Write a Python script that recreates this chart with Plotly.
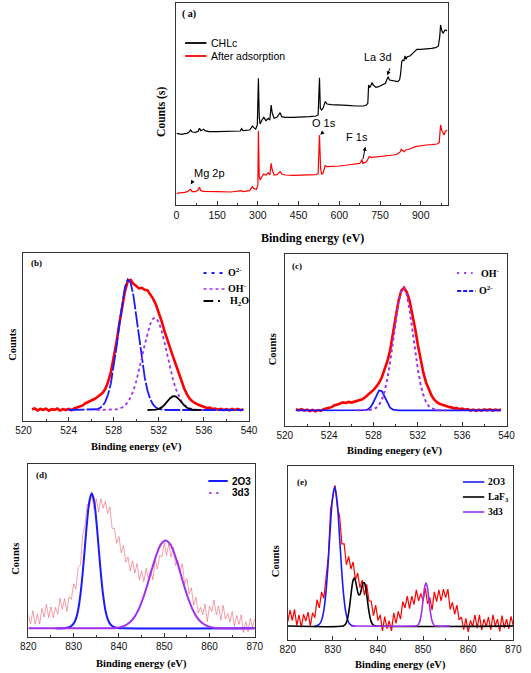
import numpy as np
import plotly.graph_objects as go

W, H = 531, 673
def px(x): return x / W
def py(y): return 1 - y / H

# ---------------- (a) survey spectra ----------------
chlc_ev = [0,10,20,30,40,48,52,58,70,80,85,90,100,105,120,150,180,210,235,240,245,270,280,285,292,298,302,305,308,315,
           322,330,338,344,349,353,360,370,382,388,400,430,460,490,515,522,527,530,535,540,548,555,570,600,630,660,690,700,705,708,
           712,715,720,725,735,745,760,770,776,780,785,795,805,815,822,826,830,834,838,842,846,850,860,870,880,886,900,920,940,955,
           965,970,973,977,982,986,990,997]
chlc_counts = [200,198,197,199,200,205,210,204,203,206,215,208,212,208,205,205,206,206,207,214,208,210,222,217,213,225,365,250,228,240,
               248,238,245,240,285,260,245,248,262,250,248,248,248,250,252,255,367,275,270,275,295,288,286,286,284,282,282,285,290,345,
               338,340,352,345,338,340,345,350,363,370,360,358,357,355,360,380,415,420,418,432,422,430,432,440,450,452,452,453,455,457,
               462,490,525,510,500,505,510,508]
after_ev = [0,10,20,30,40,48,52,58,70,80,85,90,100,150,200,240,245,270,280,285,295,300,302,305,308,315,322,330,338,344,
            349,353,360,370,382,388,400,430,460,490,515,522,527,531,535,540,548,555,570,600,630,660,675,680,683,687,700,705,710,720,
            740,760,780,800,815,825,828,832,838,845,860,880,900,920,940,960,968,973,977,982,986,990,997]
after_counts = [20,20,22,23,25,30,32,25,25,30,38,28,26,25,24,28,25,28,40,34,32,45,207,70,60,70,78,74,82,75,
                110,90,75,76,85,78,75,74,74,75,76,80,195,95,78,80,103,100,100,102,105,108,110,115,122,110,115,122,130,128,
                130,132,132,135,138,145,152,150,145,150,153,160,163,165,166,168,172,225,210,200,195,205,210]

# ---------------- (b) O 1s, CHLc ----------------
b_ev = np.round(np.arange(520.75, 539.51, 0.25), 2)
b_counts = [0.5,1.2,-0.3,0.8,0.2,1.0,-0.5,0.6,0.1,1.1,-0.4,0.7,0.0,0.9,
            -0.2,1.3,2.0,2.8,3.5,5.2,6.0,7.4,8.2,9.6,
            11.0,13.0,16.0,21.5,29.0,40.0,52.0,66.0,80.0,91.0,
            98.5,99.5,96.5,94.5,93.0,93.5,92.0,91.5,88.5,85.0,
            80.5,75.0,68.0,60.5,53.5,47.0,41.0,35.0,28.5,22.0,
            16.5,12.0,8.5,6.5,5.0,4.0,3.2,2.5,1.6,1.8,
            0.8,1.1,0.2,0.9,0.0,0.7,-0.2,0.8,0.1,0.9,
            -0.1,0.6]
b_o2_ev = [524.0,526.0,526.25,526.5,526.75,527.0,527.25,527.5,527.75,528.0,528.25,528.5,528.75,529.0,529.25,529.5,529.75,530.0,
           530.25,530.5,530.75,531.0,531.25,531.5,531.75,532.0,532.25,532.5,532.75,539.5]
b_o2 = [0,0.1,0.2,0.6,1.4,3.0,6.2,11.8,20.5,32.8,48.3,65.5,81.9,94.2,99.8,97.4,87.5,72.3,55.1,38.6,24.9,14.8,8.1,4.1,1.9,
        0.8,0.3,0.1,0,0]
b_oh_ev = [526.5,528.0,528.25,528.5,528.75,529.0,529.25,529.5,529.75,530.0,530.25,530.5,530.75,531.0,531.25,531.5,531.75,532.0,
           532.25,532.5,532.75,533.0,533.25,533.5,533.75,534.0,534.25,534.5,534.75,535.0,535.25,535.5,536.0]
b_oh = [0,0.2,0.5,1.0,1.9,3.5,6.0,9.7,15.0,22.0,30.5,40.1,50.0,59.0,66.0,70.0,70.4,67.1,60.6,51.9,42.1,32.4,23.6,16.3,10.7,
        6.6,3.9,2.2,1.2,0.6,0.3,0.1,0]
b_h2o_ev = [531.0,531.5,531.75,532.0,532.25,532.5,532.75,533.0,533.25,533.5,533.75,534.0,534.25,534.5,534.75,535.0,535.25,535.75]
b_h2o = [0,0.1,0.3,0.9,2.0,3.9,6.5,9.0,10.6,10.4,8.6,5.9,3.5,1.7,0.7,0.2,0.1,0]

# ---------------- (c) O 1s, after adsorption ----------------
c_ev = np.round(np.arange(521.0, 539.51, 0.25), 2)
c_counts = [0.8,0.1,1.0,-0.3,0.6,-0.6,0.4,-0.8,0.2,-0.4,
            0.9,1.2,2.0,2.8,4.2,4.8,5.6,6.4,6.0,6.8,
            6.3,7.0,7.2,8.0,9.0,10.6,12.5,14.4,16.6,19.3,
            22.5,27.0,33.0,40.0,49.0,61.0,76.0,89.0,97.5,100.0,
            96.5,89.5,79.0,67.0,53.5,41.0,30.5,22.5,16.5,11.8,
            8.5,6.4,5.2,4.3,3.6,2.9,2.4,1.6,1.8,0.9,
            1.3,0.4,0.9,-0.2,0.6,-0.5,0.5,-0.3,0.7,0.0,
            0.8,-0.2,0.5,0.1,0.6]
c_oh_ev = [526.5,527.5,527.75,528.0,528.25,528.5,528.75,529.0,529.25,529.5,529.75,530.0,530.25,530.5,530.75,531.0,531.25,
           531.5,531.75,532.0,532.25,532.5,532.75,533.0,533.25,533.5,533.75,534.0,534.5]
c_oh = [0,0.1,0.4,0.9,2.1,4.4,8.6,15.5,25.7,39.5,55.8,72.9,87.7,97.4,99.8,94.4,82.3,66.2,49.1,33.6,21.2,12.3,6.6,3.3,1.5,
        0.6,0.2,0.1,0]
c_o2_ev = [521.0,527.0,527.25,527.5,527.75,528.0,528.25,528.5,528.75,529.0,529.25,529.5,529.75,530.0,530.25,539.5]
c_o2 = [0,0,0.2,0.8,2.8,6.8,12.3,16.2,15.7,11.2,5.8,2.2,0.6,0.1,0,0]

# ---------------- (d) La 3d, CHLc ----------------
d_ev = np.round(np.arange(820.0, 870.01, 0.5), 1)
d_counts = [10,3.5,13,3,10.6,3.2,14.8,8.4,18,8, 16,7.8,15.6,10.5,22.3,14.2,22,12.5,23.5,21.5,
            33,29,45,47,69,76,92,90,100,88, 96,86,96,89,94,85,90,74,74,63,
            68,56,61.5,49,53,42.5,50,41,48,36, 42.5,34.5,44.5,37,42.5,36,50.5,44,54,53,
            63.5,54,62.5,53,60,46.5,50.5,42,48,33, 37,25.5,30,17,23,11.5,15.5,10,18,5,
            16.5,12.5,21,10,16.5,6,17,7,11,4.6, 12.5,1.5,9.5,3,10,-3,5,-2.5,7.5,1,
            7]
d_2o3_ev = [826.0,827.5,828.0,828.5,829.0,829.5,830.0,830.5,831.0,831.5,832.0,832.5,833.0,833.5,834.0,834.5,835.0,835.5,
            836.0,836.5,837.0,837.5,838.0,838.5,839.0,839.5,840.0,840.5,870.0]
d_2o3 = [0,0,0.1,0.4,0.9,1.8,3.5,7.0,13.6,24.9,41.1,60.7,80.1,94.6,100,94.6,80.1,60.7,41.1,24.9,13.6,7.0,3.5,1.8,0.9,
         0.4,0.1,0,0]
d_3d3_ev = [820,837.3,838.3,839.3,840.3,841.3,842.3,843.3,844.3,845.3,846.3,847.3,848.3,849.3,850.3,851.3,852.3,853.3,
            854.3,855.3,856.3,857.3,858.3,859.3,860.3,861.3,862.3,863.3,870]
d_3d3 = [0,0,0.1,0.3,0.9,2.0,4.1,7.8,13.7,22.1,32.5,44.1,54.7,62.3,65,62.3,54.7,44.1,32.5,22.1,13.7,7.8,4.1,2.0,0.9,
         0.3,0.1,0,0]

# ---------------- (e) La 3d, after adsorption ----------------
e_ev = np.round(np.arange(820.0, 870.01, 0.5), 1)
e_counts = [3,11.5,4,12,0.5,8,-1,8.5,3.5,10, 0,9.5,6,19,13,24.5,20,36,50,84,
            92,101,85,79,59,59,44,50,41,46, 33,38,27.5,33,22,30,18,18,7.5,15,
            4,8,-3.5,6.8,-1.8,3.8,-3.5,9.5,2,10.5, 5,17.5,13,21.5,12.5,21.5,15.5,26,18,23.5,
            18,27,16,20.5,11.5,24.5,17.5,26,18,26.5, 20.5,26.5,12,17,8.5,15,4.5,6.5,-2.5,5.5,
            -4.3,4,-0.5,8,-1.5,8,-3,5,-0.2,6.5, -2.7,8,0,5,-3.8,7.5,-1.3,5,-2,7,
            0]
e_2o3_ev = [825.9,826.4,826.9,827.4,827.9,828.4,828.9,829.4,829.9,830.4,830.9,831.4,831.9,832.4,832.9,833.4,833.9,834.4,834.9]
e_2o3 = [0,0.2,1.0,3.3,9.4,22.0,42.7,68.5,91.0,100,91.0,68.5,42.7,22.0,9.4,3.3,1.0,0.2,0]
e_laf3_ev = [820,832.25,832.5,832.75,833.0,833.25,833.5,833.75,834.0,834.25,834.5,834.75,835.0,835.25,835.5,835.75,836.0,
             836.25,836.5,836.75,837.0,837.25,837.5,837.75,838.0,838.25,838.5,838.75,839.0,839.25,839.5,870]
e_laf3 = [0,0,0.5,1.2,2.6,5.2,9.5,15.2,22.0,28.5,33.0,34.4,32.6,28.7,24.7,22.4,22.7,25.3,28.8,31.2,31.0,27.9,22.5,16.3,
          10.6,6.1,3.2,1.5,0.6,0.2,0,0]
e_3d3_ev = [834.0,848.15,848.4,848.65,848.9,849.15,849.4,849.65,849.9,850.15,850.4,850.65,850.9,851.15,851.4,851.65,851.9,
            852.15,852.4,852.65,852.9,853.15,856.0]
e_3d3 = [0,0,0.1,0.3,0.8,2.2,4.9,9.5,15.9,23.1,28.8,31,28.8,23.1,15.9,9.5,4.9,2.2,0.8,0.3,0.1,0,0]

RED = '#ff0000'
BLUE = '#1a1aff'
PURPLE = '#a02ff0'
BLACK = '#000000'
SERIF = 'Liberation Serif'
SANS = 'Liberation Sans'

fig = go.Figure()

def add(x, y, ax, color, width, dash='solid', shape='linear'):
    fig.add_trace(go.Scatter(x=x, y=y, mode='lines', xaxis='x' + ax, yaxis='y' + ax,
                             line=dict(color=color, width=width, dash=dash, shape=shape),
                             showlegend=False, hoverinfo='skip'))

# (a)
add(chlc_ev, chlc_counts, '', BLACK, 1.2)
add(after_ev, after_counts, '', RED, 1.2)
# (b)
add(b_ev, b_counts, '2', RED, 2.6)
add(b_o2_ev, b_o2, '2', BLUE, 1.8, '16px,2px')
add(b_oh_ev, b_oh, '2', PURPLE, 1.8, 'dot')
add(b_h2o_ev, b_h2o, '2', BLACK, 1.8)
# (c)
add(c_ev, c_counts, '3', RED, 2.6)
add(c_o2_ev, c_o2, '3', BLUE, 1.8)
add(c_oh_ev, c_oh, '3', PURPLE, 2.0, 'dot')
# (d)
add(d_ev, d_counts, '4', 'rgba(240,80,100,0.55)', 1.0)
add(d_2o3_ev, d_2o3, '4', BLUE, 2.0, shape='spline')
add(d_3d3_ev, d_3d3, '4', PURPLE, 2.0, shape='spline')
# (e)
add(e_ev, e_counts, '5', RED, 1.2)
add(e_2o3_ev, e_2o3, '5', BLUE, 1.6, shape='spline')
add(e_laf3_ev, e_laf3, '5', BLACK, 1.6, shape='spline')
add(e_3d3_ev, e_3d3, '5', PURPLE, 1.6, shape='spline')

panels = [
    ('', (174, 455), (3, 205), [0, 1002], [-15, 591], 150, 75, 10.5),
    ('2', (16, 249), (253, 421), [520, 540], [-8.4, 120.1], 4, 2, 10),
    ('3', (286, 515), (254, 426), [520, 540], [-12.8, 127.5], 4, 2, 10),
    ('4', (21, 255), (464, 637), [820, 870], [-6.4, 121.7], 10, 5, 10),
    ('5', (289, 522), (466, 640), [820, 870], [-10, 114.9], 10, 5, 10),
]
layout = {}
for k, xd, yd, xr, yr, dt, mn, fs in panels:
    layout['xaxis' + k] = dict(domain=[px(xd[0]), px(xd[1])], range=xr, anchor='y' + k,
                               showline=True, mirror=True, linecolor='#333', linewidth=1,
                               ticks='inside', ticklen=4, tickwidth=1, tickcolor='#333',
                               tick0=xr[0], dtick=dt,
                               minor=dict(ticks='inside', ticklen=2, tickcolor='#333', dtick=mn, tick0=xr[0]),
                               tickfont=dict(family=SANS, size=fs, color='#111'),
                               showgrid=False, zeroline=False, fixedrange=True)
    layout['yaxis' + k] = dict(domain=[py(yd[1]), py(yd[0])], range=yr, anchor='x' + k,
                               showline=True, mirror=True, linecolor='#333', linewidth=1,
                               ticks='', showticklabels=False, showgrid=False, zeroline=False, fixedrange=True)

ann = []
def text(x, y, s, size, family=SERIF, bold=True, angle=0, xanchor='center', color='#000'):
    ann.append(dict(x=px(x), y=py(y), xref='paper', yref='paper', text=s, showarrow=False,
                    xanchor=xanchor, yanchor='middle', textangle=angle,
                    font=dict(family=family, size=size, color=color, weight='bold' if bold else 'normal')))

# axis titles
text(314.5, 238, 'Binding energy (eV)', 12)
text(159, 112, 'Counts (s)', 11.5, angle=-90)
text(132.5, 447, 'Binding energy (eV)', 10.5)
text(5, 345, 'Counts', 10.5, angle=-90)
text(400, 451, 'Binding enegery (eV)', 10.5)
text(273, 349, 'Counts', 10.5, angle=-90)
text(138, 664, 'Binding energy (eV)', 10.5)
text(7, 559, 'Counts', 10.5, angle=-90)
text(405, 665, 'Binding energy (eV)', 10.5)
text(276, 561, 'Counts', 10.5, angle=-90)

# panel labels
text(178, 14, '( a)', 10, xanchor='left')
text(22, 263, '(b)', 9, xanchor='left')
text(291, 266, '(c)', 9, xanchor='left')
text(27, 475, '(d)', 9, xanchor='left')
text(297, 482, '(e)', 9, xanchor='left')

# legends
shapes = []
def lline(x0, x1, y, color, width=2, dash='solid'):
    shapes.append(dict(type='line', xref='paper', yref='paper', x0=px(x0), x1=px(x1), y0=py(y), y1=py(y),
                       line=dict(color=color, width=width, dash=dash)))

lline(183, 205, 43, BLACK, 1.8)
lline(183, 205, 56, RED, 1.8)
text(208, 43, 'CHLc', 10.5, SANS, False, xanchor='left')
text(208, 56, 'After adsorption', 10.5, SANS, False, xanchor='left')

lline(202, 224, 273, BLUE, 2, '3px,5px')
lline(202, 224, 289, PURPLE, 1.5, 'dot')
lline(202, 212, 301, BLACK, 2)
lline(217, 219, 301, BLACK, 2)
text(225, 272, 'O<sup>2-</sup>', 10, xanchor='left')
text(225, 288, 'OH<sup>-</sup>', 10, xanchor='left')
text(227, 301, 'H<sub>2</sub>O', 10, xanchor='left')

lline(464, 480, 273, PURPLE, 2, '2px,5px')
lline(464, 483, 291, BLUE, 2, '4px,2px')
text(487, 273, 'OH<sup>-</sup>', 10, xanchor='left')
text(484, 290, 'O<sup>2-</sup>', 10, xanchor='left')

lline(207, 227, 481, BLUE, 2)
lline(208, 220, 493, PURPLE, 2, '2px,5px')
text(229, 481, '2O3', 10, SANS, True, xanchor='left')
text(229, 493, '3d3', 10, SANS, True, xanchor='left')

lline(470, 492, 482, BLUE, 1.6)
lline(470, 492, 497, BLACK, 1.6)
lline(470, 492, 512, PURPLE, 1.6)
text(494, 482, '2O3', 9.5, xanchor='left')
text(494, 497, 'LaF<sub>3</sub>', 9.5, xanchor='left')
text(494, 512, '3d3', 9.5, xanchor='left')

# peak labels in (a)
def dtext(x, y, s):
    ann.append(dict(x=x, y=y, xref='x', yref='y', text=s, showarrow=False,
                    font=dict(family=SANS, size=11, color='#000')))
def arrow(x, y, ax, ay):
    ann.append(dict(x=x, y=y, ax=ax, ay=ay, xref='x', yref='y', axref='x', ayref='y', text='',
                    showarrow=True, arrowhead=2, arrowsize=0.8, arrowwidth=1, arrowcolor='#000'))

dtext(741, 429, 'La 3d')
dtext(545, 231, 'O 1s')
dtext(666, 189, 'F 1s')
dtext(121, 81, 'Mg 2p')
arrow(777, 374, 788, 400)
arrow(530, 196, 546, 208)
arrow(696, 160, 686, 118)
arrow(53, 47, 64, 62)

fig.update_layout(width=W, height=H, margin=dict(l=0, r=0, t=0, b=0),
                  paper_bgcolor='white', plot_bgcolor='white', showlegend=False,
                  annotations=ann, shapes=shapes, **layout)
fig.write_html('out.html', config={'displayModeBar': False},
               post_script="document.body.style.margin='0';document.body.style.overflow='hidden';")
